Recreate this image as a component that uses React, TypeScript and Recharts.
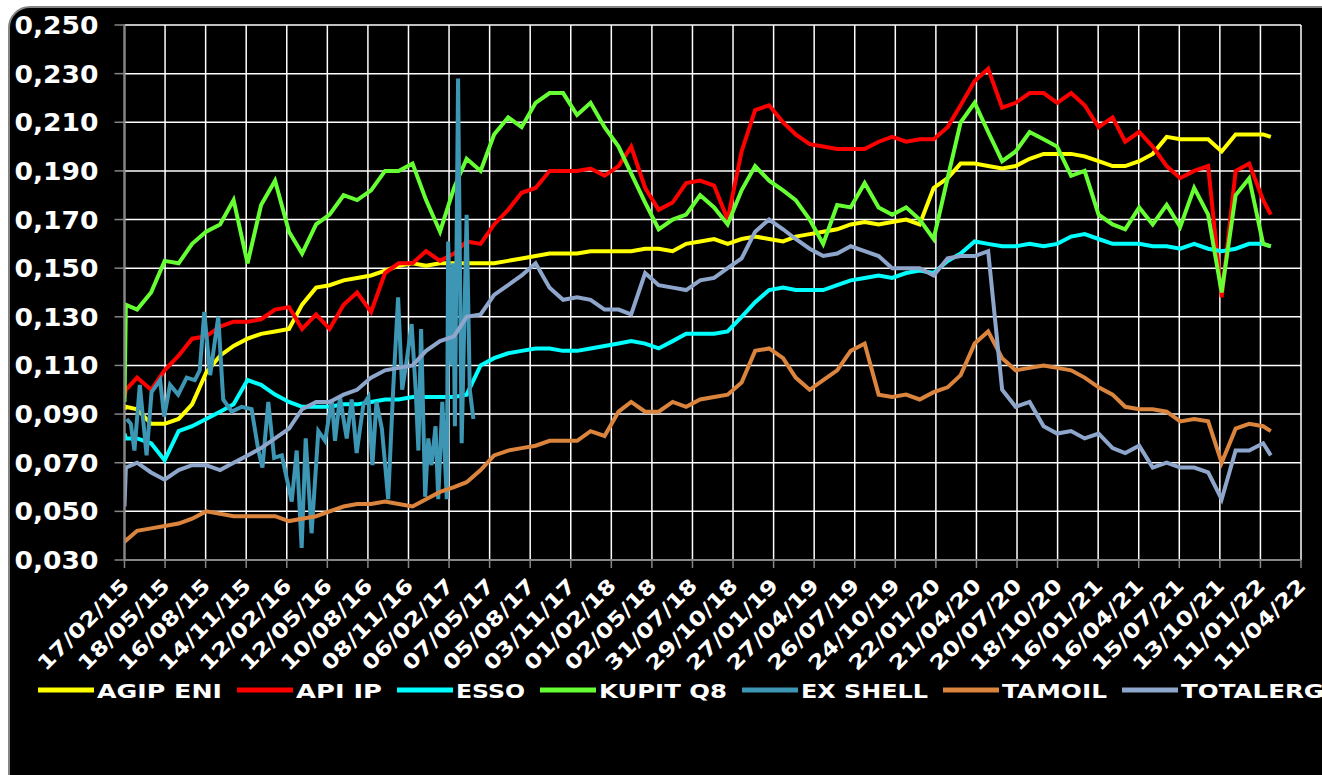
import { LineChart, Line, XAxis, YAxis, CartesianGrid } from "recharts"

// sample dates shared by every series except EX SHELL
const dates = [
  "2015-02-17", "2015-02-20", "2015-03-17", "2015-04-17", "2015-05-17", "2015-06-17", "2015-07-17", "2015-08-17", "2015-09-17", "2015-10-17", "2015-11-17", "2015-12-17",
  "2016-01-17", "2016-02-17", "2016-03-17", "2016-04-17", "2016-05-17", "2016-06-17", "2016-07-17", "2016-08-17", "2016-09-17", "2016-10-17", "2016-11-17", "2016-12-17",
  "2017-01-17", "2017-02-17", "2017-03-17", "2017-04-17", "2017-05-17", "2017-06-17", "2017-07-17", "2017-08-17", "2017-09-17", "2017-10-17", "2017-11-17", "2017-12-17",
  "2018-01-17", "2018-02-17", "2018-03-17", "2018-04-17", "2018-05-17", "2018-06-17", "2018-07-17", "2018-08-17", "2018-09-17", "2018-10-17", "2018-11-17", "2018-12-17",
  "2019-01-17", "2019-02-17", "2019-03-17", "2019-04-17", "2019-05-17", "2019-06-17", "2019-07-17", "2019-08-17", "2019-09-17", "2019-10-17", "2019-11-17", "2019-12-17",
  "2020-01-17", "2020-02-17", "2020-03-17", "2020-04-17", "2020-05-17", "2020-06-17", "2020-07-17", "2020-08-17", "2020-09-17", "2020-10-17", "2020-11-17", "2020-12-17",
  "2021-01-17", "2021-02-17", "2021-03-17", "2021-04-17", "2021-05-17", "2021-06-17", "2021-07-17", "2021-08-17", "2021-09-17", "2021-10-17", "2021-11-17", "2021-12-17",
  "2022-01-17", "2022-02-03",
]

const agipEni = [
  0.092, 0.093, 0.092, 0.086, 0.086, 0.088, 0.094, 0.107, 0.114, 0.118, 0.121, 0.123,
  0.124, 0.125, 0.135, 0.142, 0.143, 0.145, 0.146, 0.147, 0.149, 0.151, 0.152, 0.151,
  0.152, 0.152, 0.152, 0.152, 0.152, 0.153, 0.154, 0.155, 0.156, 0.156, 0.156, 0.157,
  0.157, 0.157, 0.157, 0.158, 0.158, 0.157, 0.160, 0.161, 0.162, 0.160, 0.162, 0.163,
  0.162, 0.161, 0.163, 0.164, 0.165, 0.166, 0.168, 0.169, 0.168, 0.169, 0.170, 0.168,
  0.183, 0.187, 0.193, 0.193, 0.192, 0.191, 0.192, 0.195, 0.197, 0.197, 0.197, 0.196,
  0.194, 0.192, 0.192, 0.194, 0.197, 0.204, 0.203, 0.203, 0.203, 0.198, 0.205, 0.205,
  0.205, 0.204,
]

const apiIp = [
  0.097, 0.100, 0.105, 0.100, 0.108, 0.114, 0.121, 0.122, 0.126, 0.128, 0.128, 0.129,
  0.133, 0.134, 0.125, 0.131, 0.125, 0.135, 0.140, 0.132, 0.148, 0.152, 0.152, 0.157,
  0.153, 0.156, 0.161, 0.160, 0.168, 0.174, 0.181, 0.183, 0.190, 0.190, 0.190, 0.191,
  0.188, 0.192, 0.200, 0.183, 0.174, 0.177, 0.185, 0.186, 0.184, 0.170, 0.198, 0.215,
  0.217, 0.210, 0.205, 0.201, 0.200, 0.199, 0.199, 0.199, 0.202, 0.204, 0.202, 0.203,
  0.203, 0.208, 0.217, 0.227, 0.232, 0.216, 0.218, 0.222, 0.222, 0.218, 0.222, 0.217,
  0.208, 0.212, 0.202, 0.206, 0.200, 0.192, 0.187, 0.190, 0.192, 0.138, 0.190, 0.193,
  0.178, 0.172,
]

const esso = [
  0.082, 0.080, 0.080, 0.078, 0.071, 0.083, 0.085, 0.088, 0.091, 0.094, 0.104, 0.102,
  0.098, 0.095, 0.093, 0.093, 0.093, 0.094, 0.094, 0.095, 0.096, 0.096, 0.097, 0.097,
  0.097, 0.097, 0.098, 0.110, 0.113, 0.115, 0.116, 0.117, 0.117, 0.116, 0.116, 0.117,
  0.118, 0.119, 0.120, 0.119, 0.117, 0.120, 0.123, 0.123, 0.123, 0.124, 0.130, 0.136,
  0.141, 0.142, 0.141, 0.141, 0.141, 0.143, 0.145, 0.146, 0.147, 0.146, 0.148, 0.149,
  0.148, 0.153, 0.156, 0.161, 0.160, 0.159, 0.159, 0.160, 0.159, 0.160, 0.163, 0.164,
  0.162, 0.160, 0.160, 0.160, 0.159, 0.159, 0.158, 0.160, 0.158, 0.157, 0.158, 0.160,
  0.160, 0.159,
]

const kupitQ8 = [
  0.095, 0.135, 0.133, 0.140, 0.153, 0.152, 0.160, 0.165, 0.168, 0.178, 0.152, 0.176,
  0.186, 0.165, 0.156, 0.168, 0.172, 0.180, 0.178, 0.182, 0.190, 0.190, 0.193, 0.178,
  0.165, 0.183, 0.195, 0.190, 0.205, 0.212, 0.208, 0.218, 0.222, 0.222, 0.213, 0.218,
  0.208, 0.200, 0.189, 0.177, 0.166, 0.170, 0.172, 0.180, 0.175, 0.168, 0.182, 0.192,
  0.186, 0.182, 0.178, 0.170, 0.160, 0.176, 0.175, 0.185, 0.175, 0.172, 0.175, 0.170,
  0.162, 0.187, 0.210, 0.218, 0.206, 0.194, 0.198, 0.206, 0.203, 0.200, 0.188, 0.190,
  0.172, 0.168, 0.166, 0.175, 0.168, 0.176, 0.167, 0.183, 0.172, 0.140, 0.180, 0.187,
  0.160, 0.159,
]

const tamoil = [
  0.039, 0.038, 0.042, 0.043, 0.044, 0.045, 0.047, 0.050, 0.049, 0.048, 0.048, 0.048,
  0.048, 0.046, 0.047, 0.048, 0.050, 0.052, 0.053, 0.053, 0.054, 0.053, 0.052, 0.055,
  0.058, 0.060, 0.062, 0.067, 0.073, 0.075, 0.076, 0.077, 0.079, 0.079, 0.079, 0.083,
  0.081, 0.091, 0.095, 0.091, 0.091, 0.095, 0.093, 0.096, 0.097, 0.098, 0.103, 0.116,
  0.117, 0.113, 0.105, 0.100, 0.104, 0.108, 0.116, 0.119, 0.098, 0.097, 0.098, 0.096,
  0.099, 0.101, 0.106, 0.119, 0.124, 0.113, 0.108, 0.109, 0.110, 0.109, 0.108, 0.105,
  0.101, 0.098, 0.093, 0.092, 0.092, 0.091, 0.087, 0.088, 0.087, 0.070, 0.084, 0.086,
  0.085, 0.083,
]

const totalErg = [
  0.052, 0.068, 0.070, 0.066, 0.063, 0.067, 0.069, 0.069, 0.067, 0.070, 0.073, 0.076,
  0.080, 0.084, 0.092, 0.095, 0.095, 0.098, 0.100, 0.105, 0.108, 0.109, 0.110, 0.116,
  0.120, 0.122, 0.130, 0.131, 0.139, 0.143, 0.147, 0.152, 0.142, 0.137, 0.138, 0.137,
  0.133, 0.133, 0.131, 0.148, 0.143, 0.142, 0.141, 0.145, 0.146, 0.150, 0.154, 0.165,
  0.170, 0.166, 0.162, 0.158, 0.155, 0.156, 0.159, 0.157, 0.155, 0.150, 0.150, 0.150,
  0.147, 0.154, 0.155, 0.155, 0.157, 0.100, 0.093, 0.095, 0.085, 0.082, 0.083, 0.080,
  0.082, 0.076, 0.074, 0.077, 0.068, 0.070, 0.068, 0.068, 0.066, 0.055, 0.075, 0.075,
  0.078, 0.073,
]

// EX SHELL is spiky and stops in 2017, so it has its own dates
const exShellDates = [
  "2015-02-22", "2015-03-03", "2015-03-11", "2015-03-23", "2015-04-07", "2015-04-18", "2015-05-07", "2015-05-16",
  "2015-05-29", "2015-06-16", "2015-07-05", "2015-07-23", "2015-08-03", "2015-08-13", "2015-08-26", "2015-09-13",
  "2015-09-24", "2015-10-13", "2015-11-04", "2015-11-26", "2015-12-11", "2015-12-20", "2016-01-02", "2016-01-15",
  "2016-02-01", "2016-02-23", "2016-03-05", "2016-03-16", "2016-03-25", "2016-04-07", "2016-04-22", "2016-05-07",
  "2016-05-22", "2016-05-29", "2016-06-09", "2016-06-24", "2016-07-05", "2016-07-16", "2016-07-31", "2016-08-11",
  "2016-08-20", "2016-08-29", "2016-09-10", "2016-09-24", "2016-10-05", "2016-10-16", "2016-10-25", "2016-11-04",
  "2016-11-15", "2016-11-24", "2016-11-30", "2016-12-06", "2016-12-15", "2016-12-22", "2016-12-29", "2017-01-07",
  "2017-01-13", "2017-01-22", "2017-02-01", "2017-02-04", "2017-02-12", "2017-02-15", "2017-02-19", "2017-02-26",
  "2017-03-06", "2017-03-17", "2017-03-24", "2017-04-01",
]

const exShell = [
  0.088, 0.086, 0.075, 0.102, 0.073, 0.099, 0.104, 0.089,
  0.102, 0.098, 0.105, 0.104, 0.108, 0.132, 0.106, 0.130,
  0.096, 0.091, 0.093, 0.092, 0.075, 0.068, 0.095, 0.072,
  0.073, 0.054, 0.075, 0.035, 0.080, 0.041, 0.083, 0.079,
  0.096, 0.079, 0.097, 0.080, 0.096, 0.074, 0.094, 0.097,
  0.069, 0.095, 0.084, 0.055, 0.100, 0.138, 0.100, 0.112,
  0.127, 0.100, 0.075, 0.125, 0.056, 0.080, 0.069, 0.085,
  0.055, 0.095, 0.055, 0.161, 0.110, 0.152, 0.085, 0.228,
  0.078, 0.172, 0.100, 0.088,
]

const xTickLabels = [
  "17/02/15", "18/05/15", "16/08/15", "14/11/15", "12/02/16", "12/05/16", "10/08/16", "08/11/16",
  "06/02/17", "07/05/17", "05/08/17", "03/11/17", "01/02/18", "02/05/18", "31/07/18", "29/10/18",
  "27/01/19", "27/04/19", "26/07/19", "24/10/19", "22/01/20", "21/04/20", "20/07/20", "18/10/20",
  "16/01/21", "16/04/21", "15/07/21", "13/10/21", "11/01/22", "11/04/22",
]

const yTicks = [0.03, 0.05, 0.07, 0.09, 0.11, 0.13, 0.15, 0.17, 0.19, 0.21, 0.23, 0.25]

const FONT = "'DejaVu Sans', Verdana, sans-serif"
const AXIS_GREY = "#858585"

const isoTime = (s: string) => Date.parse(s + "T00:00:00Z")
const labelTime = (s: string) => {
  const [d, m, y] = s.split("/").map(Number)
  return Date.UTC(2000 + y, m - 1, d)
}
const xTicks = xTickLabels.map(labelTime)

const rowsOf = (ds: string[], vs: number[]) => ds.map((d, i) => ({ t: isoTime(d), v: vs[i] }))

const series = [
  { name: "AGIP ENI", color: "#ffff00", rows: rowsOf(dates, agipEni), labelWidth: 125 },
  { name: "API IP", color: "#ff0000", rows: rowsOf(dates, apiIp), labelWidth: 86 },
  { name: "ESSO", color: "#00ffff", rows: rowsOf(dates, esso), labelWidth: 69 },
  { name: "KUPIT Q8", color: "#66ff33", rows: rowsOf(dates, kupitQ8), labelWidth: 128 },
  { name: "EX SHELL", color: "#3d96b3", rows: rowsOf(exShellDates, exShell), labelWidth: 127 },
  { name: "TAMOIL", color: "#db843d", rows: rowsOf(dates, tamoil), labelWidth: 105 },
  { name: "TOTALERG", color: "#8ea6cb", rows: rowsOf(dates, totalErg), labelWidth: 143 },
]

function YTick(props: any) {
  const { x, y, payload } = props
  return (
    <text
      x={x}
      y={y + 9}
      textAnchor="end"
      fill="#fff"
      fontFamily={FONT}
      fontWeight="bold"
      fontSize={25}
      textLength={84}
      lengthAdjust="spacingAndGlyphs"
    >
      {payload.value.toFixed(3).replace(".", ",")}
    </text>
  )
}

function XTick(props: any) {
  const { x, y, payload } = props
  const idx = xTicks.indexOf(payload.value)
  return (
    <text
      transform={`translate(${x + 6},${y + 17}) rotate(-45)`}
      textAnchor="end"
      fill="#fff"
      fontFamily={FONT}
      fontWeight="bold"
      fontSize={20}
      textLength={120}
      lengthAdjust="spacingAndGlyphs"
    >
      {idx >= 0 ? xTickLabels[idx] : ""}
    </text>
  )
}

function LegendRow() {
  let cursor = 38
  const items = series.map((s) => {
    const lineX = cursor
    const textX = lineX + 59
    cursor = textX + s.labelWidth + 15
    return (
      <g key={s.name}>
        <line x1={lineX} x2={lineX + 56} y1={690} y2={690} stroke={s.color} strokeWidth={5} />
        <text
          x={textX}
          y={698}
          fill="#fff"
          fontFamily={FONT}
          fontWeight="bold"
          fontSize={20}
          textLength={s.labelWidth}
          lengthAdjust="spacingAndGlyphs"
        >
          {s.name}
        </text>
      </g>
    )
  })
  return (
    <svg width={1322} height={775} style={{ position: "absolute", left: 0, top: 0, pointerEvents: "none" }}>
      {items}
    </svg>
  )
}

export default function App() {
  return (
    <div style={{ position: "fixed", left: 0, top: 0, width: 1322, height: 775, background: "#fff", overflow: "hidden" }}>
      <div
        style={{
          position: "absolute",
          left: 8,
          top: 6,
          width: 1340,
          height: 800,
          background: "#000",
          border: `2px solid ${AXIS_GREY}`,
          borderRadius: 22,
        }}
      />
      <div style={{ position: "absolute", left: 0, top: 0 }}>
        <LineChart width={1322} height={775} margin={{ top: 25, right: 21, bottom: 95, left: 14.5 }}>
          <CartesianGrid stroke="#ffffff" strokeWidth={1.5} />
          <XAxis
            type="number"
            dataKey="t"
            domain={[xTicks[0], xTicks[xTicks.length - 1]]}
            ticks={xTicks}
            interval={0}
            allowDataOverflow
            height={120}
            tickSize={8}
            tick={<XTick />}
            axisLine={{ stroke: AXIS_GREY, strokeWidth: 2 }}
            tickLine={{ stroke: AXIS_GREY, strokeWidth: 1.5 }}
          />
          <YAxis
            type="number"
            domain={[0.03, 0.25]}
            ticks={yTicks}
            interval={0}
            allowDataOverflow
            width={110}
            tickSize={10}
            tickMargin={16}
            tick={<YTick />}
            axisLine={{ stroke: AXIS_GREY, strokeWidth: 2 }}
            tickLine={{ stroke: AXIS_GREY, strokeWidth: 1.5 }}
          />
          {series.map((s) => (
            <Line
              key={s.name}
              name={s.name}
              data={s.rows}
              dataKey="v"
              type="linear"
              stroke={s.color}
              strokeWidth={4}
              dot={false}
              activeDot={false}
              isAnimationActive={false}
            />
          ))}
        </LineChart>
      </div>
      <LegendRow />
    </div>
  )
}
